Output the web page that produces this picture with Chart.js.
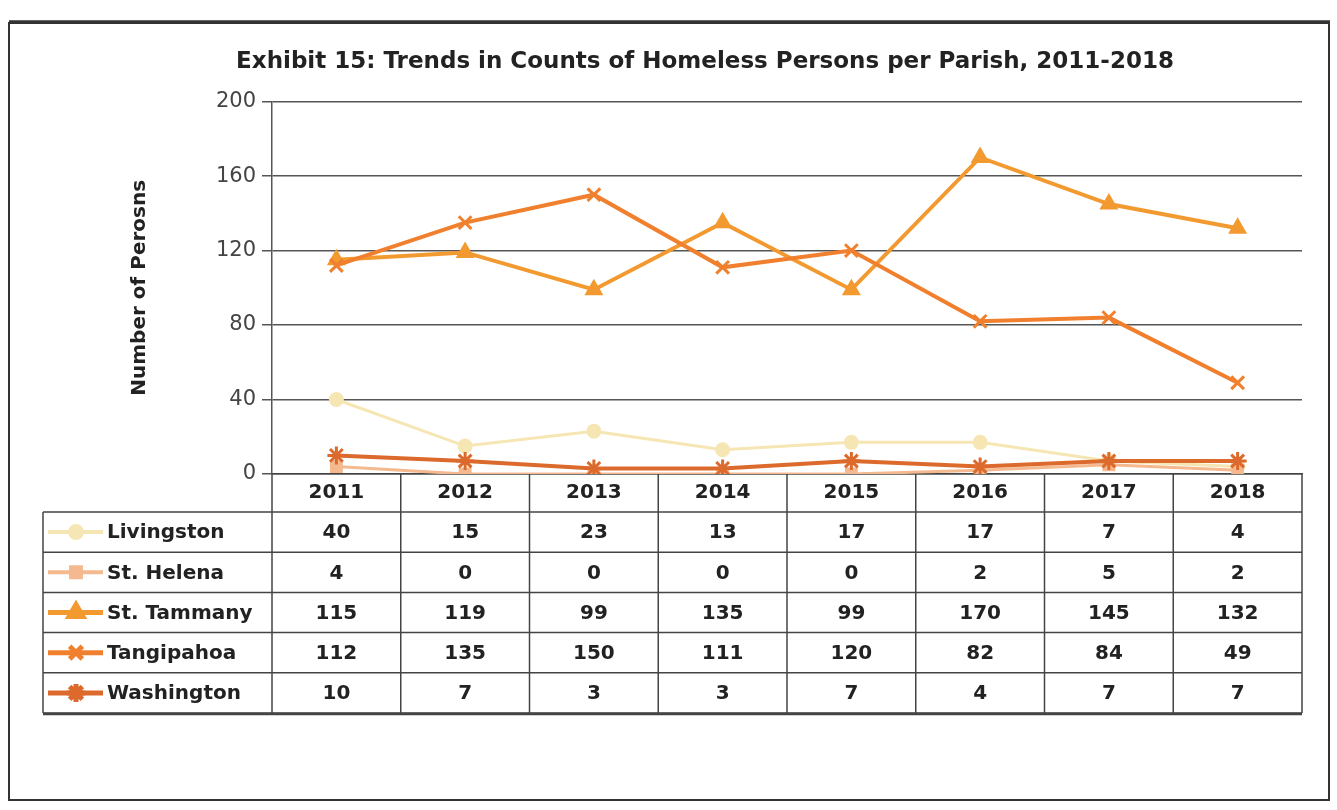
<!DOCTYPE html>
<html>
<head>
<meta charset="utf-8">
<script src="https://cdn.jsdelivr.net/npm/chart.js@4.4.1/dist/chart.umd.min.js"></script>
<style>
  html, body { margin: 0; background: #fff; }
  #wrap { width: 1337px; height: 810px; position: relative; }
</style>
</head>
<body>
<div id="wrap"><canvas id="chart"></canvas></div>
<script>
const years = ['2011', '2012', '2013', '2014', '2015', '2016', '2017', '2018'];
const livingston = [40, 15, 23, 13, 17, 17, 7, 4];
const stHelena = [4, 0, 0, 0, 0, 2, 5, 2];
const stTammany = [115, 119, 99, 135, 99, 170, 145, 132];
const tangipahoa = [112, 135, 150, 111, 120, 82, 84, 49];
const washington = [10, 7, 3, 3, 7, 4, 7, 7];
const yTicks = [0, 40, 80, 120, 160, 200];

const FONT = '"DejaVu Sans", sans-serif';

const series = [
    { label: 'Livingston', data: livingston, color: '#f6e6b4', style: 'circle', radius: 6, width: 3 },
    { label: 'St. Helena', data: stHelena, color: '#f4b98f', style: 'rect', radius: 7, width: 3 },
    { label: 'St. Tammany', data: stTammany, color: '#f29a30', style: 'triangle', radius: 8, width: 4 },
    { label: 'Tangipahoa', data: tangipahoa, color: '#f0802e', style: 'crossRot', radius: 9, width: 4 },
    { label: 'Washington', data: washington, color: '#dc6a2c', style: 'star', radius: 9, width: 4 }
];

// outer frame of the exhibit
const framePlugin = {
    id: 'frame',
    beforeDraw(chart) {
        const ctx = chart.ctx;
        ctx.save();
        ctx.fillStyle = '#fff';
        ctx.fillRect(0, 0, chart.width, chart.height);
        ctx.strokeStyle = '#333';
        ctx.lineWidth = 2;
        ctx.strokeRect(9, 23, chart.width - 17, chart.height - 33);
        ctx.lineWidth = 3.5;
        ctx.beginPath();
        ctx.moveTo(9, 22);
        ctx.lineTo(chart.width - 7, 22);
        ctx.stroke();
        ctx.restore();
    }
};

// data table under the plot, columns follow the x scale
const tablePlugin = {
    id: 'dataTable',
    afterDraw(chart) {
        const ctx = chart.ctx;
        const area = chart.chartArea;
        const xs = chart.scales.x;
        const colW = (area.right - area.left) / years.length;
        const headTop = area.bottom;
        const headH = 38;
        const rowH = 40.2;
        const tableLeft = 43;
        const bodyTop = headTop + headH;
        const bodyBottom = bodyTop + rowH * series.length;

        ctx.save();
        ctx.strokeStyle = '#444';
        ctx.lineWidth = 1.5;

        // horizontal rules
        ctx.beginPath();
        for (let r = 0; r <= series.length; r++) {
            const y = bodyTop + r * rowH;
            ctx.moveTo(tableLeft, y);
            ctx.lineTo(area.right, y);
        }
        ctx.stroke();

        // vertical rules
        ctx.beginPath();
        ctx.moveTo(tableLeft, bodyTop);
        ctx.lineTo(tableLeft, bodyBottom);
        for (let i = 0; i <= years.length; i++) {
            const x = area.left + i * colW;
            ctx.moveTo(x, headTop);
            ctx.lineTo(x, bodyBottom);
        }
        ctx.stroke();

        ctx.lineWidth = 2.5;
        ctx.beginPath();
        ctx.moveTo(tableLeft, bodyBottom + 1);
        ctx.lineTo(area.right, bodyBottom + 1);
        ctx.stroke();

        // rows
        series.forEach((s, r) => {
            const cy = bodyTop + r * rowH + rowH / 2;
            // legend key
            ctx.strokeStyle = s.color;
            ctx.lineWidth = s.width + 1;
            ctx.beginPath();
            ctx.moveTo(tableLeft + 5, cy);
            ctx.lineTo(tableLeft + 60, cy);
            ctx.stroke();
            ctx.fillStyle = s.color;
            Chart.helpers.drawPoint(ctx, {
                pointStyle: s.style, radius: s.radius, rotation: 0, borderWidth: 3
            }, tableLeft + 33, cy);

            ctx.fillStyle = '#222';
            ctx.font = 'bold 20px ' + FONT;
            ctx.textBaseline = 'middle';
            ctx.textAlign = 'left';
            ctx.fillText(s.label, tableLeft + 64, cy + 1);

            ctx.textAlign = 'center';
            s.data.forEach((v, i) => {
                ctx.fillText(String(v), xs.getPixelForValue(i), cy + 1);
            });
        });
        ctx.restore();
    }
};

new Chart(document.getElementById('chart'), {
    type: 'line',
    data: {
        labels: years,
        datasets: series.map((s, i) => ({
            label: s.label,
            data: s.data,
            borderColor: s.color,
            backgroundColor: s.color,
            borderWidth: s.width,
            pointStyle: s.style,
            pointRadius: s.radius,
            pointBorderWidth: 3,
            pointBorderColor: s.color,
            pointBackgroundColor: s.color,
            tension: 0,
            order: series.length - i
        }))
    },
    options: {
        responsive: true,
        maintainAspectRatio: false,
        animation: false,
        layout: { padding: { top: 48, left: 108, right: 35, bottom: 298 } },
        scales: {
            x: {
                offset: true,
                afterFit(axis) { axis.height = 38; },
                grid: { display: false, drawTicks: false },
                border: { display: true, color: '#444', width: 1.5 },
                ticks: {
                    padding: 7,
                    color: '#222',
                    font: { family: FONT, size: 20, weight: 'bold' }
                }
            },
            y: {
                min: 0,
                max: 200,
                afterFit(axis) { axis.width = 164; },
                afterBuildTicks(axis) { axis.ticks = yTicks.map(v => ({ value: v })); },
                grid: { color: '#555', lineWidth: 1.5, tickLength: 10 },
                border: { display: true, color: '#555', width: 1.5 },
                ticks: {
                    padding: 6,
                    color: '#444',
                    font: { family: FONT, size: 21 }
                },
                title: {
                    display: true,
                    text: 'Number of Perosns',
                    color: '#222',
                    padding: { top: 20 },
                    font: { family: FONT, size: 20, weight: 'bold' }
                }
            }
        },
        plugins: {
            legend: { display: false },
            tooltip: { enabled: false },
            title: {
                display: true,
                text: 'Exhibit 15: Trends in Counts of Homeless Persons per Parish, 2011-2018',
                color: '#222',
                padding: { top: 0, bottom: 26 },
                font: { family: FONT, size: 23, weight: 'bold' }
            }
        }
    },
    plugins: [framePlugin, tablePlugin]
});
</script>
</body>
</html>
